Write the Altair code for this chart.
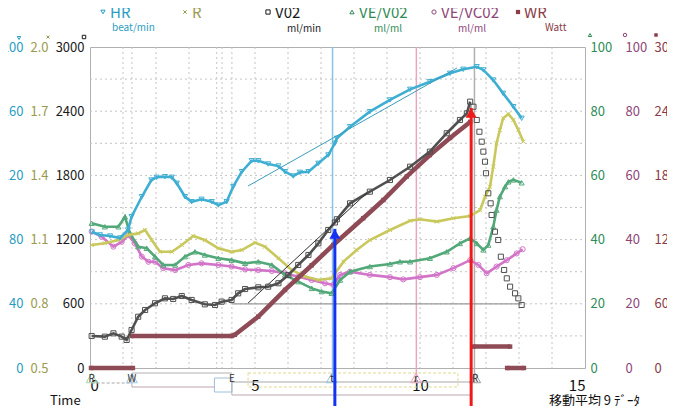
import altair as alt
import pandas as pd

FONT = "Noto Sans CJK JP"
PW, PH = 495, 321

# ---------------- colours ----------------
C_HR, M_HR = "#2b9cc3", "#3eaed2"
C_R, M_R = "#9a9a4e", "#c8c85c"
C_VO2, M_VO2 = "#1a1a1a", "#505050"
C_VE, M_VE = "#2f8c58", "#52a878"
C_VC, M_VC = "#8e4678", "#d274c8"
C_WR, M_WR = "#8b3c48", "#8e4a55"
XSHAPE = "M-1,-1L1,1M-1,1L1,-1"

# ---------------- data (time in min) ----------------
hr_t = [0.06, 0.30, 0.61, 0.91, 1.15, 1.26, 1.57, 1.86, 2.02, 2.27, 2.48, 2.63, 2.88, 3.08, 3.38,
        3.69, 3.89, 4.14, 4.34, 4.60, 4.90, 5.10, 5.40, 5.71, 5.91, 6.16, 6.36, 6.62, 6.92, 7.22,
        7.42, 7.48, 7.88, 8.48, 9.09, 9.70, 10.30, 10.91, 11.31, 11.72, 11.92, 12.22, 12.52, 12.83, 13.08]
hr_v = [84.7, 82.9, 82.2, 81.0, 86.0, 94.3, 106.7, 117.1, 118.8, 119.2, 118.8, 115.1, 106.7, 103.6, 105.1,
        103.6, 101.5, 103.6, 113.0, 122.3, 129.1, 129.1, 127.1, 125.8, 122.3, 119.6, 121.9, 122.3, 127.5, 132.7,
        140.0, 143.1, 150.3, 159.7, 167.0, 173.6, 178.4, 183.6, 186.1, 187.7, 185.7, 179.4, 171.1, 162.8, 155.6]

vo2_t = [0.05, 0.45, 0.71, 0.96, 1.11, 1.26, 1.46, 1.67, 1.97, 2.27, 2.52, 2.78, 3.08, 3.48, 3.79,
         3.99, 4.29, 4.49, 4.70, 5.10, 5.40, 5.71, 6.01, 6.31, 6.62, 6.92, 7.22, 7.42, 7.48, 7.88,
         8.48, 9.09, 9.70, 10.30, 10.81, 11.21, 11.42, 11.52]
vo2_v = [299, 293, 324, 293, 262, 355, 479, 542, 605, 651, 645, 673, 636, 595, 589,
         620, 636, 698, 738, 754, 760, 792, 869, 963, 1056, 1165, 1290, 1360, 1390, 1539,
         1648, 1757, 1881, 2022, 2194, 2318, 2380, 2489]
vo2r_t = [11.62, 11.72, 11.80, 11.87, 11.92, 11.97, 12.00, 12.07, 12.14, 12.17, 12.27, 12.37, 12.45,
          12.55, 12.63, 12.73, 12.88, 12.98, 13.08]
vo2r_v = [2442, 2318, 2208, 2115, 2022, 1928, 1820, 1633, 1539, 1430, 1274, 1196, 1040,
          916, 838, 760, 698, 651, 589]

r_t = [0.05, 0.45, 0.86, 1.16, 1.46, 1.67, 1.87, 2.12, 2.48, 2.78, 3.13, 3.48, 3.89, 4.29, 4.60,
       5.00, 5.30, 5.71, 6.11, 6.52, 6.92, 7.32, 7.68, 8.08, 8.48, 9.09, 9.70, 10.00, 10.51, 11.01,
       11.52, 11.82, 11.97, 12.12, 12.22, 12.32, 12.42, 12.52, 12.68, 12.83, 12.98, 13.13]
r_v = [1.075, 1.083, 1.098, 1.122, 1.129, 1.145, 1.098, 1.043, 1.043, 1.075, 1.117, 1.098, 1.059, 1.043, 1.051,
       1.086, 1.067, 1.013, 0.958, 0.927, 0.911, 0.919, 0.997, 1.051, 1.098, 1.145, 1.188, 1.195, 1.184, 1.200,
       1.210, 1.238, 1.300, 1.347, 1.441, 1.550, 1.612, 1.667, 1.687, 1.659, 1.612, 1.558]

ve_t = [0.05, 0.45, 0.86, 1.06, 1.21, 1.46, 1.72, 1.97, 2.22, 2.58, 2.88, 3.18, 3.48, 3.89, 4.29,
        4.70, 5.10, 5.51, 5.91, 6.31, 6.72, 7.02, 7.32, 7.58, 7.88, 8.48, 9.09, 9.39, 9.70, 10.30,
        10.81, 11.21, 11.52, 11.72, 11.92, 12.07, 12.22, 12.32, 12.42, 12.58, 12.68, 12.83, 13.08]
ve_v = [45.1, 44.0, 44.0, 47.1, 42.0, 37.8, 37.3, 34.7, 32.1, 32.1, 34.7, 36.2, 35.2, 34.2, 33.6,
        32.6, 33.1, 32.1, 29.0, 26.9, 24.8, 23.8, 23.3, 27.4, 30.0, 31.6, 32.4, 33.1, 33.1, 34.2,
        36.2, 38.8, 40.4, 38.8, 36.8, 38.3, 44.0, 49.2, 53.4, 56.5, 58.0, 58.6, 57.7]

vc_t = [0.05, 0.35, 0.71, 0.96, 1.16, 1.36, 1.57, 1.77, 1.97, 2.22, 2.58, 2.98, 3.38, 3.89, 4.29,
        4.70, 5.10, 5.51, 5.91, 6.31, 6.72, 7.12, 7.37, 7.58, 7.88, 8.48, 9.09, 9.49, 10.00, 10.51,
        11.01, 11.52, 11.77, 12.02, 12.32, 12.63, 12.93, 13.11]
vc_v = [42.5, 40.9, 37.8, 39.3, 41.4, 38.8, 34.7, 33.1, 33.1, 31.1, 30.5, 32.1, 32.6, 32.1, 31.6,
        30.7, 30.5, 30.2, 29.5, 28.4, 27.4, 26.4, 25.9, 29.0, 30.0, 29.0, 28.3, 27.6, 28.3, 29.0,
        31.1, 33.6, 32.1, 29.5, 31.6, 33.6, 35.7, 37.0]

wr_t = [0.03, 1.30, 1.27, 4.30, 4.39, 5.10, 5.91, 6.72, 7.37, 8.28, 8.89, 9.60, 10.30, 10.91, 11.52,
        11.62, 12.73, 12.64, 13.15]
wr_v = [0, 0, 30, 30, 31, 48, 73, 96, 115, 140, 157, 179, 199, 215, 230, 20, 20, 0, 0]
wr_seg = ["rest", "rest"] + ["load"] * 13 + ["rec1", "rec1", "rec2", "rec2"]

hr_fit_t, hr_fit_v = [4.79, 11.12], [113.4, 186.9]
vo2_fit_t, vo2_fit_v = [4.79, 8.39], [607, 1636]
base_t, base_t2, base_v = [4.30], [13.08], [600]

arrow_t = [7.42, 11.55]
arrow_v = [1300, 2430]

event_t = [0.05, 1.27, 4.30, 7.33, 9.88, 11.67]
event_lab = ["R", "W", "E", "t", "r", "R"]
marker_line_t = [7.35, 9.89, 11.65]
span_t = [3.77, 11.58, 4.79, 11.15]

grid_t = [1, 1.27, 2, 3, 3.84, 4, 4.30, 5, 6, 7, 8, 9, 10, 11, 12, 13, 14]
grid_v = [300, 600, 900, 1200, 1500, 1800, 2100, 2400, 2700]

ticks_hr = [0, 40, 80, 120, 160, 200]
ticks_r = [0.5, 0.8, 1.1, 1.4, 1.7, 2.0]
ticks_vo2 = [0, 600, 1200, 1800, 2400, 3000]
ticks_pct = [0, 20, 40, 60, 80, 100]
ticks_wr = [0, 60, 120, 180, 240, 300]
ticks_x = [0, 5, 10, 15]

# ---------------- helpers ----------------
xs = alt.Scale(domain=[0, 15], nice=False, zero=False)
x_axis = alt.Axis(values=ticks_x, title=None, ticks=False, tickSize=0, domain=False, grid=False,
                  labelPadding=10, labelFontSize=15, labelFont=FONT, labelColor="#111111")


def X(f):
    return alt.X(f + ":Q", scale=xs, axis=x_axis)


def ysc(lo, hi):
    return alt.Scale(domain=[lo, hi], nice=False, zero=False)


def yaxis(orient, offset, values, color, fmt="d"):
    return alt.Axis(orient=orient, offset=offset, values=values, title=None, ticks=False, tickSize=0,
                    domain=False, grid=False, labelPadding=0, labelFontSize=13, labelFont=FONT,
                    labelColor=color, labelOverlap=False, format=fmt)


one = pd.DataFrame({"k": [0]})


def txt(s, x, y, color, size, align="left", baseline="middle"):
    return alt.Chart(one).mark_text(text=s, align=align, baseline=baseline, color=color,
                                    fontSize=size, font=FONT).encode(x=alt.value(x), y=alt.value(y))


def glyph(shape, x, y, color, filled=False, size=18):
    return alt.Chart(one).mark_point(shape=shape, filled=filled, color=color, size=size,
                                     strokeWidth=1, opacity=1).encode(x=alt.value(x), y=alt.value(y))


def series(t, v, color, shape, dom, axis, filled=False, size=26, sw=2.6):
    df = pd.DataFrame({"t": t, "v": v})
    return alt.Chart(df).mark_line(
        color=color, strokeWidth=sw,
        point=alt.OverlayMarkDef(shape=shape, filled=filled, color=color, size=size,
                                 strokeWidth=1, opacity=1)
    ).encode(x=X("t"), y=alt.Y("v:Q", scale=dom, axis=axis))


def hline_px(t1, t2, ypix, color, dash=None, width=1):
    df = pd.DataFrame({"t": [t1], "t2": [t2]})
    kw = dict(color=color, strokeWidth=width)
    if dash:
        kw["strokeDash"] = dash
    return alt.Chart(df).mark_rule(**kw).encode(x=X("t"), x2="t2:Q", y=alt.value(ypix))


def vline_px(t, y1, y2, color, width=1):
    df = pd.DataFrame({"t": [t]})
    return alt.Chart(df).mark_rule(color=color, strokeWidth=width).encode(
        x=X("t"), y=alt.value(y1), y2=alt.value(y2))


layers = []

# grid
layers.append(alt.Chart(pd.DataFrame({"t": grid_t})).mark_rule(
    color="#c4c4c4", strokeDash=[2, 3], strokeWidth=1).encode(x=X("t"), y=alt.value(0), y2=alt.value(PH)))
layers.append(alt.Chart(pd.DataFrame({"v": grid_v})).mark_rule(
    color="#c4c4c4", strokeDash=[2, 3], strokeWidth=1).encode(
    y=alt.Y("v:Q", scale=ysc(0, 3000), axis=None), x=alt.value(0), x2=alt.value(PW)))

# event vertical lines
for t, c in zip(marker_line_t, ["#86c3e6", "#e8a6c2", "#b0b0b0"]):
    layers.append(vline_px(t, 0, 336, c, 1.5))

# baseline 600 line
layers.append(alt.Chart(pd.DataFrame({"t": base_t, "t2": base_t2, "v": base_v})).mark_rule(
    color="#9a9a9a", strokeWidth=1.3).encode(
    x=X("t"), x2="t2:Q", y=alt.Y("v:Q", scale=ysc(0, 3000), axis=None)))

# timeline below plot
layers.append(hline_px(event_t[0], event_t[1], 336, "#a8a8a8", [3, 2]))
layers.append(hline_px(event_t[1], event_t[2], 326, "#b0b0b0"))
layers.append(hline_px(event_t[1], span_t[0], 340, "#c0a0b0"))
layers.append(vline_px(event_t[1], 326, 340, "#b0b0b0"))
layers.append(alt.Chart(pd.DataFrame({"t": [span_t[0]], "t2": [event_t[2]]})).mark_rect(
    filled=False, stroke="#9ec0d8", strokeWidth=1).encode(x=X("t"), x2="t2:Q", y=alt.value(331), y2=alt.value(345)))
layers.append(hline_px(event_t[2], event_t[5], 335, "#a8a8a8"))
layers.append(hline_px(event_t[2], span_t[1], 348, "#b8a8b0"))
layers.append(vline_px(event_t[2], 335, 348, "#b0b0b0"))
layers.append(alt.Chart(pd.DataFrame({"t": [span_t[2]], "t2": [span_t[3]]})).mark_rect(
    filled=False, stroke="#e2d890", strokeWidth=1, strokeDash=[3, 2]).encode(
    x=X("t"), x2="t2:Q", y=alt.value(326), y2=alt.value(340)))
for i, c in [(0, "#9fd4b0"), (1, "#9cc8e4"), (3, "#8cc4e6"), (4, "#eea2c2"), (5, "#9a9a9a")]:
    layers.append(alt.Chart(pd.DataFrame({"t": [event_t[i]]})).mark_point(
        shape="triangle-up", filled=False, color=c, size=120, strokeWidth=1, opacity=1).encode(
        x=X("t"), y=alt.value(331)))
layers.append(alt.Chart(pd.DataFrame({"t": event_t, "lab": event_lab})).mark_text(
    fontSize=10, color="#333333", font=FONT, dy=1).encode(x=X("t"), y=alt.value(331), text="lab:N"))

# series
layers.append(series(vc_t, vc_v, M_VC, "circle", ysc(0, 100),
                     yaxis("right", 40, ticks_pct, C_VC)))
layers.append(series(ve_t, ve_v, M_VE, "triangle-up", ysc(0, 100),
                     yaxis("right", 5, ticks_pct, C_VE)))
layers.append(series(r_t, r_v, M_R, XSHAPE, ysc(0.5, 2.0),
                     yaxis("left", 42, ticks_r, C_R, ".1f"), size=16))

wr_df = pd.DataFrame({"t": wr_t, "v": wr_v, "seg": wr_seg})
layers.append(alt.Chart(wr_df).mark_line(
    color=M_WR, strokeWidth=4.5,
    point=alt.OverlayMarkDef(shape="square", filled=True, color=M_WR, size=20, opacity=1)
).encode(x=X("t"), y=alt.Y("v:Q", scale=ysc(0, 300), axis=yaxis("right", 69, ticks_wr, C_WR)),
         detail="seg:N"))

layers.append(series(vo2_t, vo2_v, M_VO2, "square", ysc(0, 3000),
                     yaxis("left", 6, ticks_vo2, C_VO2), size=26))
layers.append(alt.Chart(pd.DataFrame({"t": vo2r_t, "v": vo2r_v})).mark_point(
    shape="square", filled=False, color=M_VO2, size=26, strokeWidth=1, opacity=1).encode(
    x=X("t"), y=alt.Y("v:Q", scale=ysc(0, 3000), axis=None)))

layers.append(series(hr_t, hr_v, M_HR, "triangle-down", ysc(0, 200),
                     yaxis("left", 67, ticks_hr, C_HR)))

# regression lines
layers.append(alt.Chart(pd.DataFrame({"t": hr_fit_t, "v": hr_fit_v})).mark_line(
    color="#3a9cbc", strokeWidth=1).encode(x=X("t"), y=alt.Y("v:Q", scale=ysc(0, 200), axis=None)))
layers.append(alt.Chart(pd.DataFrame({"t": vo2_fit_t, "v": vo2_fit_v})).mark_line(
    color="#333333", strokeWidth=1).encode(x=X("t"), y=alt.Y("v:Q", scale=ysc(0, 3000), axis=None)))

# arrows
for i, c in enumerate(["#1432f0", "#f01818"]):
    adf = pd.DataFrame({"t": [arrow_t[i]], "v": [arrow_v[i]]})
    layers.append(alt.Chart(adf).mark_rule(color=c, strokeWidth=3).encode(
        x=X("t"), y=alt.Y("v:Q", scale=ysc(0, 3000), axis=None), y2=alt.value(400)))
    layers.append(alt.Chart(adf).mark_point(shape="triangle-up", filled=True, color=c, size=120,
                                            opacity=1, yOffset=5).encode(
        x=X("t"), y=alt.Y("v:Q", scale=ysc(0, 3000), axis=None)))

# header legend
layers += [
    glyph("triangle-down", 13, -35, C_HR), txt("HR", 20, -34, C_HR, 15),
    txt("beat/min", 22, -19, C_HR, 10),
    glyph(XSHAPE, 95, -35, C_R, size=12), txt("R", 102, -34, C_R, 15),
    glyph("square", 178, -35, C_VO2), txt("V02", 185, -34, C_VO2, 15),
    txt("ml/min", 197, -18, C_VO2, 10),
    glyph("triangle-up", 262, -35, C_VE), txt("VE/V02", 269, -34, C_VE, 15),
    txt("ml/ml", 284, -18, C_VE, 10),
    glyph("circle", 344, -35, C_VC), txt("VE/VC02", 351, -34, C_VC, 15),
    txt("ml/ml", 368, -18, C_VC, 10),
    glyph("square", 428, -35, C_WR, filled=True), txt("WR", 434, -34, C_WR, 15),
    txt("Watt", 455, -19, C_WR, 10),
    # axis header markers
    glyph("triangle-down", -71, -9, C_HR, size=12),
    glyph(XSHAPE, -42, -10, C_R, size=8),
    glyph("square", -6, -10, C_VO2, size=12),
    glyph("triangle-up", 500, -12, C_VE, size=12),
    glyph("circle", 535, -12, C_VC, size=12),
    glyph("square", 566, -12, C_WR, filled=True, size=12),
    # bottom texts
    txt("Time", -40, 358, "#111111", 13, baseline="alphabetic"),
    txt("移動平均 9 ﾃﾞｰﾀ", 550, 358, "#111111", 13, align="right", baseline="alphabetic"),
]

chart = alt.layer(*layers).resolve_scale(y="independent").properties(
    width=PW, height=PH,
    padding={"left": 82, "top": 39, "right": 82, "bottom": 38},
    autosize=alt.AutoSizeParams(type="none"),
    background="white",
).configure_view(stroke="#b0b0b0", strokeWidth=1)

chart.save("out.html", embed_options={"renderer": "svg", "actions": False})
